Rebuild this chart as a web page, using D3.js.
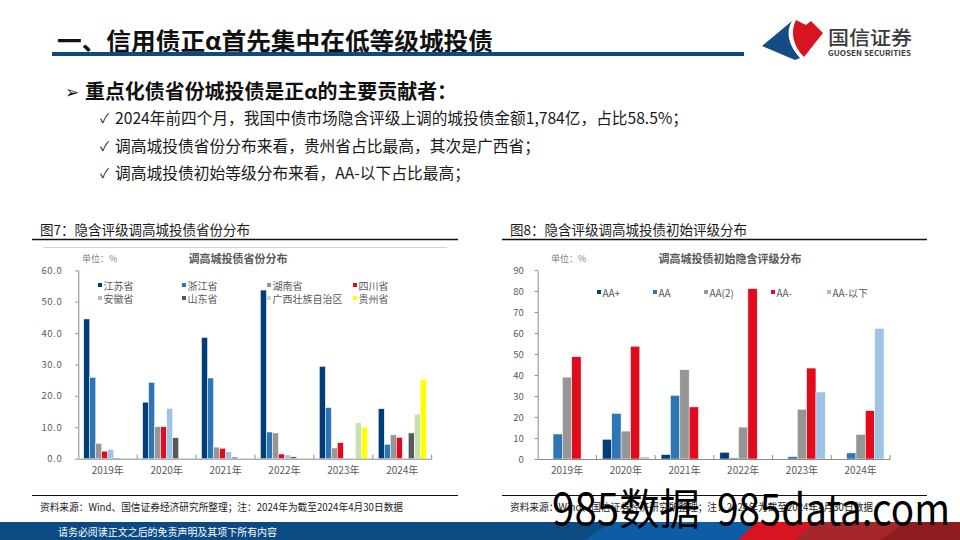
<!DOCTYPE html>
<html><head><meta charset="utf-8">
<script src="https://cdn.jsdelivr.net/npm/d3@7"></script>
<style>
body{margin:0;background:#fff}
svg{display:block}
text{font-family:"Noto Sans CJK SC","Noto Sans",sans-serif}
</style>
</head><body><svg id="c" width="960" height="540"></svg>
<script>
// ---------- data ----------
const years = ["2019年","2020年","2021年","2022年","2023年","2024年"];

const provinces = ["江苏省","浙江省","湖南省","四川省","安徽省","山东省","广西壮族自治区","贵州省"];
const jiangsu  = [44.5,18.0,38.6,53.7,29.4,15.9];
const zhejiang = [25.9,24.3,25.7, 8.5,16.3, 4.6];
const hunan    = [ 4.9,10.2, 3.7, 8.2, 3.4, 7.6];
const sichuan  = [ 2.4,10.2, 3.3, 1.5, 5.1, 6.8];
const anhui    = [ 3.0,16.0, 2.2, 1.2, 0.0, 0.0];
const shandong = [ 0.2, 6.7, 0.5, 0.6, 0.0, 8.2];
const guangxi  = [ 0.0, 0.0, 0.0, 0.0,11.4,14.2];
const guizhou  = [ 0.0, 0.0, 0.0, 0.0,10.1,25.3];
const leftTicks = [0,10,20,30,40,50,60];

const ratings = ["AA+","AA","AA(2)","AA-","AA-以下"];
const aaPlus       = [ 0.0, 9.4, 2.1, 3.2, 0.0, 0.0];
const aa           = [11.9,21.7,30.3, 0.5, 1.1, 2.9];
const aa2          = [39.0,13.3,42.5,15.2,23.7,11.7];
const aaMinus      = [48.7,53.7,24.8,81.1,43.3,23.0];
const belowAAMinus = [ 0.0, 1.0, 0.0, 0.0,31.9,62.2];
const rightTicks = [0,10,20,30,40,50,60,70,80,90];

const bulletHead = "重点化债省份城投债是正α的主要贡献者：";
const bullets = [
  "2024年前四个月，我国中债市场隐含评级上调的城投债金额1,784亿，占比58.5%；",
  "调高城投债省份分布来看，贵州省占比最高，其次是广西省；",
  "调高城投债初始等级分布来看，AA-以下占比最高；"
];
const sourceText = "资料来源：Wind、国信证券经济研究所整理；注：2024年为截至2024年4月30日数据";

// ---------- page ----------
const svg = d3.select("#c");

// title
svg.append("text").attr("x",57).attr("y",39).attr("dominant-baseline","central")
  .attr("font-size",24).attr("font-weight",700).attr("fill","#111")
  .attr("textLength",436).attr("lengthAdjust","spacingAndGlyphs")
  .text("一、信用债正α首先集中在低等级城投债");
svg.append("rect").attr("x",52).attr("y",52).attr("width",692).attr("height",4).attr("fill","#0E4A80");

// logo
const logo = svg.append("g");
logo.append("path").attr("d","M762,46 L792,21 C785,32 789,46 800,58 L795,60 Z").attr("fill","#164C86");
logo.append("path").attr("d","M796,20 L806,25 L811,21 L823,33 L804,57 C793,46 790,32 796,20 Z").attr("fill","#D7141F");
logo.append("text").attr("x",828).attr("y",36).attr("dominant-baseline","central")
  .attr("font-size",19).attr("font-weight",500).attr("fill","#3a3a3a")
  .attr("textLength",84).attr("lengthAdjust","spacingAndGlyphs").text("国信证券");
logo.append("text").attr("x",828).attr("y",52.5).attr("dominant-baseline","central")
  .attr("font-size",7.5).attr("font-weight",700).attr("fill","#3a3a3a")
  .attr("textLength",83).attr("lengthAdjust","spacingAndGlyphs").text("GUOSEN SECURITIES");

// bullets
svg.append("text").attr("x",65).attr("y",90).attr("dominant-baseline","central")
  .attr("font-size",17).attr("font-family","DejaVu Sans").attr("fill","#111").text("➢");
svg.append("text").attr("x",85).attr("y",90).attr("dominant-baseline","central")
  .attr("font-size",20).attr("font-weight",700).attr("fill","#111")
  .attr("textLength",372).attr("lengthAdjust","spacingAndGlyphs").text(bulletHead);
const bulletY = [117,145,172];
const bulletW = [573,425,355];
bullets.forEach((b,i)=>{
  svg.append("text").attr("x",100).attr("y",bulletY[i]).attr("dominant-baseline","central")
    .attr("font-size",13).attr("font-family","DejaVu Sans").attr("fill","#222").text("✓");
  svg.append("text").attr("x",115).attr("y",bulletY[i]).attr("dominant-baseline","central")
    .attr("font-size",16).attr("fill","#1a1a1a")
    .attr("textLength",bulletW[i]).attr("lengthAdjust","spacingAndGlyphs").text(b);
});

// ---------- chart helper ----------
function groupedChart(cfg){
  const g = svg.append("g");
  g.append("text").attr("x",cfg.titleX).attr("y",229).attr("dominant-baseline","central")
    .attr("font-size",13.5).attr("fill","#1a1a1a").text(cfg.figTitle);
  g.append("line").attr("x1",cfg.lineX1).attr("x2",cfg.lineX2).attr("y1",239.5).attr("y2",239.5)
    .attr("stroke","#111").attr("stroke-width",1.3);
  if(cfg.frame){
    g.append("line").attr("x1",cfg.frame[0]).attr("x2",cfg.frame[1]).attr("y1",247.5).attr("y2",247.5)
      .attr("stroke","#d4d4d4").attr("stroke-width",1);
  }
  g.append("text").attr("x",cfg.innerX).attr("y",258).attr("dominant-baseline","central")
    .attr("text-anchor","middle").attr("font-size",11).attr("font-weight",700).attr("fill","#595959")
    .text(cfg.innerTitle);
  g.append("text").attr("x",cfg.unitX).attr("y",258).attr("dominant-baseline","central")
    .attr("font-size",9).attr("fill","#7f7f7f").text("单位：%");

  const x0 = d3.scaleBand().domain(years).range(cfg.xRange)
    .paddingInner(cfg.pad).paddingOuter(cfg.pad/2);
  const x1 = d3.scaleBand().domain(cfg.series).range([0,x0.bandwidth()]);
  const y = d3.scaleLinear().domain(cfg.yDomain).range(cfg.yRange);

  cfg.series.forEach((s,j)=>{
    const vals = cfg.values[j];
    g.append("g").selectAll("rect").data(years.map((yr,i)=>({yr,v:vals[i]})).filter(d=>d.v>0))
      .join("rect")
      .attr("x",d=>x0(d.yr)+x1(s))
      .attr("y",d=>y(d.v))
      .attr("width",x1.bandwidth())
      .attr("height",d=>y(0)-y(d.v))
      .attr("fill",cfg.colors[j])
      .attr("stroke","#fff").attr("stroke-width",0.5);
  });

  const ya = g.append("g").attr("transform",`translate(${cfg.xRange[0]},0)`)
    .call(d3.axisLeft(y).tickValues(cfg.ticks).tickFormat(cfg.fmt).tickSize(3).tickSizeOuter(0).tickPadding(cfg.yPad));
  ya.select(".domain").attr("stroke","#8c8c8c");
  ya.selectAll(".tick line").attr("stroke","#8c8c8c");
  ya.selectAll("text").attr("font-size",9.5).attr("fill","#595959")
    .attr("font-family","Noto Sans CJK SC").attr("letter-spacing",cfg.ls);

  const xa = g.append("g").attr("transform",`translate(0,${y(0)})`)
    .call(d3.axisBottom(x0).tickSize(0).tickPadding(8));
  xa.select(".domain").attr("stroke","#8c8c8c");
  xa.selectAll("text").attr("font-size",10).attr("fill","#595959").attr("font-family","Noto Sans CJK SC");
  d3.range(1,years.length+1).forEach(i=>{
    const xx = cfg.xRange[0] + i*x0.step();
    g.append("line").attr("x1",xx).attr("x2",xx).attr("y1",y(0)-4).attr("y2",y(0))
      .attr("stroke","#8c8c8c");
  });

  cfg.series.forEach((s,j)=>{
    const lx = cfg.legX[j], ly = cfg.legY[j];
    g.append("rect").attr("x",lx).attr("y",ly-2).attr("width",4).attr("height",4).attr("fill",cfg.colors[j]);
    g.append("text").attr("x",lx+5.5).attr("y",ly).attr("dominant-baseline","central")
      .attr("font-size",10).attr("fill","#595959").text(s);
  });

  g.append("line").attr("x1",cfg.lineX1).attr("x2",cfg.lineX2).attr("y1",495.5).attr("y2",495.5)
    .attr("stroke","#111").attr("stroke-width",1);
  g.append("text").attr("x",cfg.srcX).attr("y",506).attr("dominant-baseline","central")
    .attr("font-size",10.5).attr("fill","#222")
    .attr("textLength",363).attr("lengthAdjust","spacingAndGlyphs").text(sourceText);
}

groupedChart({
  figTitle:"图7：隐含评级调高城投债省份分布", titleX:40, lineX1:32, lineX2:458, frame:[43,447],
  innerTitle:"调高城投债省份分布", innerX:238, unitX:82,
  series:provinces,
  values:[jiangsu,zhejiang,hunan,sichuan,anhui,shandong,guangxi,guizhou],
  colors:["#003D79","#2E75B6","#969696","#E00B1C","#9DC3E6","#595959","#C5E0B4","#FFFF00"],
  xRange:[78.3,431.7], pad:0.185, yDomain:[0,60], yRange:[458.7,270.3],
  ticks:leftTicks, fmt:d3.format(".1f"), yPad:13, ls:0.6,
  legX:[98,182,267,353,98,182,267,353], legY:[285,285,285,285,298,298,298,298],
  srcX:40
});

groupedChart({
  figTitle:"图8：隐含评级调高城投债初始评级分布", titleX:510, lineX1:502, lineX2:927, frame:null,
  innerTitle:"调高城投债初始隐含评级分布", innerX:730, unitX:551,
  series:ratings,
  values:[aaPlus,aa,aa2,aaMinus,belowAAMinus],
  colors:["#003D79","#2E75B6","#969696","#E00B1C","#9DC3E6"],
  xRange:[537.7,890], pad:0.204, yDomain:[0,90], yRange:[459,270],
  ticks:rightTicks, fmt:d3.format("d"), yPad:11, ls:0,
  legX:[597,653,704,771,827], legY:[292,292,292,292,292],
  srcX:510
});

// footer bar
const fb = svg.append("g");
fb.append("rect").attr("x",0).attr("y",522).attr("width",960).attr("height",18).attr("fill","#0B4A82");
fb.append("polygon").attr("points","585,540 612,522 760,522 738,540").attr("fill","#0E5CA5");
fb.append("polygon").attr("points","738,540 757,522 815,522 795,540").attr("fill","#D7141F");
fb.append("polygon").attr("points","795,540 815,522 960,522 960,540").attr("fill","#A6262B");
fb.append("polygon").attr("points","880,540 905,522 960,522 960,540").attr("fill","#8C1C20");
fb.append("text").attr("x",58).attr("y",531.5).attr("dominant-baseline","central")
  .attr("font-size",10).attr("fill","#fff")
  .attr("textLength",219).attr("lengthAdjust","spacingAndGlyphs").text("请务必阅读正文之后的免责声明及其项下所有内容");

// watermark
svg.append("text").attr("x",552).attr("y",525).attr("font-size",43).attr("fill","#000")
  .attr("font-family","Liberation Sans, Noto Sans CJK SC")
  .attr("textLength",148).attr("lengthAdjust","spacingAndGlyphs").text("985数据");
svg.append("text").attr("x",717).attr("y",525).attr("font-size",43).attr("fill","#000")
  .attr("font-family","Liberation Sans")
  .attr("textLength",233).attr("lengthAdjust","spacingAndGlyphs").text("985data.com");
</script>
</body></html>
